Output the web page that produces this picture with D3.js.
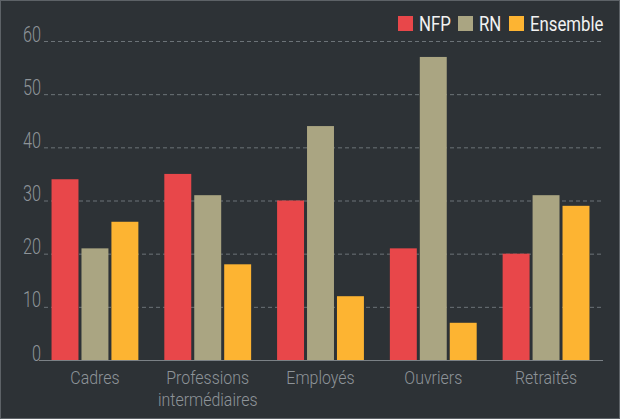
<!DOCTYPE html>
<html><head><meta charset="utf-8">
<script src="https://cdn.jsdelivr.net/npm/d3@7"></script>
<style>
html,body{margin:0;padding:0;background:#2d3236;}
svg{display:block;}
text{font-family:Roboto,"DejaVu Sans Condensed",sans-serif;}
</style></head><body>
<svg id="c" width="620" height="419"></svg>
<script>
const categories = ["Cadres", "Professions\nintermédiaires", "Employés", "Ouvriers", "Retraités"];
const seriesNames = ["NFP", "RN", "Ensemble"];
const nfp = [34, 35, 30, 21, 20];
const rn = [21, 31, 44, 57, 31];
const ensemble = [26, 18, 12, 7, 29];
const yTicks = [0, 10, 20, 30, 40, 50, 60];
const colors = ["#e8474a", "#aaa582", "#fdb432"];

(function(){
const W = 620, H = 419;
const svg = d3.select("#c");
svg.append("rect").attr("x",0.5).attr("y",0.5).attr("width",W-1).attr("height",H-1)
  .attr("fill","#2d3236").attr("stroke","#5d6267").attr("stroke-width",1);

const mLeft = 38, mRight = 603, mTop = 41, mBottom = 360;
const y = d3.scaleLinear().domain([0,60]).range([mBottom, mTop]);
const x0 = d3.scaleBand().domain(categories).range([mLeft, mRight]).paddingInner(0.23).paddingOuter(0.12);
const x1 = d3.scaleBand().domain(seriesNames).range([0, x0.bandwidth()]).paddingInner(0.1);

const seriesVals = [nfp, rn, ensemble];

const yAxis = d3.axisLeft(y).tickValues(yTicks).tickSize(0).tickPadding(0);
const gy = svg.append("g").attr("transform",`translate(41,0)`).call(yAxis);
gy.select(".domain").remove();
gy.selectAll(".tick text")
  .attr("fill","#8e9499").attr("font-size",22).attr("font-weight",300)
  .attr("font-family","Roboto, sans-serif")
  .attr("dy",0).attr("x",0).attr("text-anchor","end")
  .attr("transform",`scale(0.74,1)`);

svg.append("g").selectAll("line").data(yTicks.filter(d=>d>0)).join("line")
  .attr("x1",44).attr("x2",mRight).attr("y1",d=>y(d)+0.5).attr("y2",d=>y(d)+0.5)
  .attr("stroke","#6c7378").attr("stroke-dasharray","4,3").attr("stroke-width",1);

const groups = svg.append("g").selectAll("g").data(categories).join("g")
  .attr("transform",d=>`translate(${x0(d)},0)`);
groups.selectAll("rect").data((d,i)=>seriesNames.map((s,j)=>({s, v: seriesVals[j][i], j})))
  .join("rect")
  .attr("x",d=>x1(d.s)).attr("width",x1.bandwidth())
  .attr("y",d=>y(d.v)).attr("height",d=>y(0)-y(d.v))
  .attr("fill",d=>colors[d.j]);

svg.append("line").attr("x1",mLeft+1).attr("x2",mRight).attr("y1",mBottom+0.5).attr("y2",mBottom+0.5)
  .attr("stroke","#7b8186").attr("stroke-width",1);

const xl = svg.append("g").selectAll("text").data(categories).join("text")
  .attr("transform",d=>`translate(${x0(d)+x0.bandwidth()/2},384) scale(0.84,1)`)
  .attr("text-anchor","middle").attr("fill","#8e9499").attr("font-size",19).attr("font-weight",300);
xl.each(function(d){
  const lines = d.split("\n");
  d3.select(this).selectAll("tspan").data(lines).join("tspan")
    .attr("x",0).attr("y",(l,i)=>i*22.5).text(l=>l);
});

const legendItems = [{n:"NFP",x:398},{n:"RN",x:458},{n:"Ensemble",x:509}];
const lg = svg.append("g");
legendItems.forEach((it,i)=>{
  lg.append("rect").attr("x",it.x).attr("y",16).attr("width",15).attr("height",15).attr("fill",colors[i]);
  lg.append("text").attr("transform",`translate(${it.x+21},31) scale(0.8,1)`)
    .attr("fill","#f2f2f2").attr("font-size",21).text(it.n);
});
})();
</script></body></html>
